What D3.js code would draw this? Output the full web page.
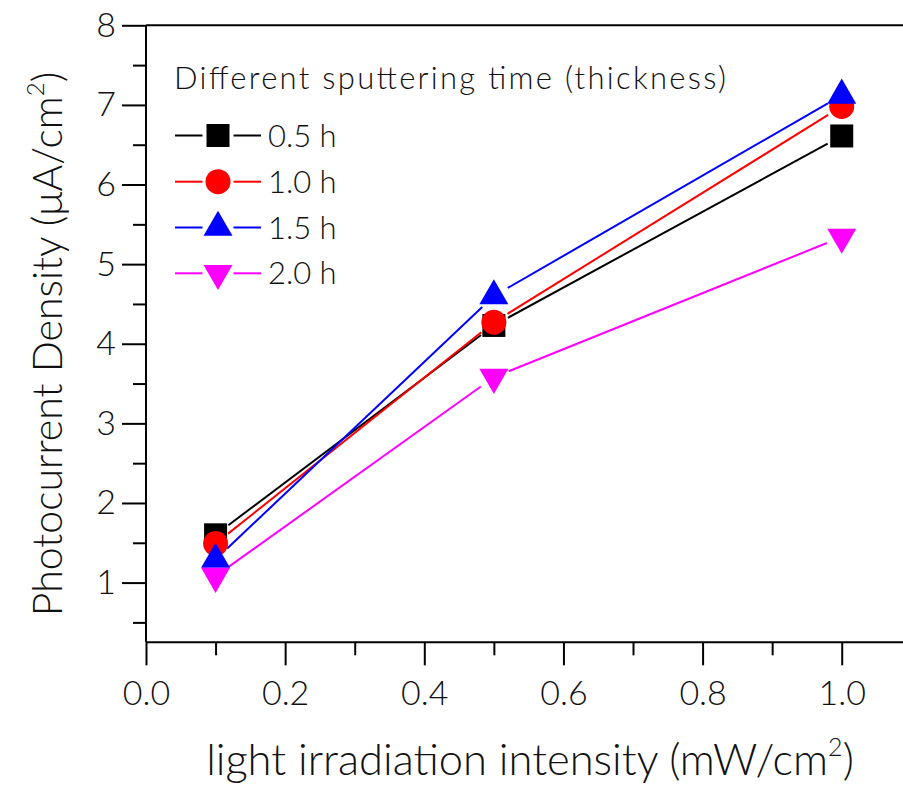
<!DOCTYPE html>
<html>
<head>
<meta charset="utf-8">
<script src="https://cdn.jsdelivr.net/npm/d3@7"></script>
<style>
  body { margin: 0; background: #fff; }
  svg { display: block; }
  text { font-family: Lato, "Open Sans", sans-serif; font-weight: 300; fill: #111; }
</style>
</head>
<body>
<svg width="903" height="785"></svg>
<script>
// data
const xValues = [0.1, 0.5, 1.0];
const seriesNames = ["0.5 h", "1.0 h", "1.5 h", "2.0 h"];
const seriesColors = ["#000000", "#ff0000", "#0000ff", "#ff00ff"];
const seriesShapes = ["square", "circle", "up", "down"];
const values05 = [1.6, 4.23, 6.61];
const values10 = [1.49, 4.27, 6.98];
const values15 = [1.29, 4.6, 7.12];
const values20 = [1.08, 3.58, 5.34];
const yTicks = [1, 2, 3, 4, 5, 6, 7, 8];
const xTicks = [0.0, 0.2, 0.4, 0.6, 0.8, 1.0];
const legendTitle = "Different sputtering time (thickness)";

const allValues = [values05, values10, values15, values20];
const series = seriesNames.map((name, i) => ({
  name: name,
  color: seriesColors[i],
  shape: seriesShapes[i],
  points: xValues.map((x, j) => ({ x: x, y: allValues[i][j] })),
}));

const svg = d3.select("svg");

const x = d3.scaleLinear().domain([0, 1.1]).range([146, 911.3]);
const y = d3.scaleLinear().domain([0.25, 8]).range([642.3, 25.3]);

// marker path builder
function markerPath(shape) {
  if (shape === "square") {
    return "M-11.5,-11.5h23v23h-23z";
  }
  if (shape === "circle") {
    return d3.symbol(d3.symbolCircle, Math.PI * 12.5 * 12.5)();
  }
  const s = 29, h = s * Math.sqrt(3) / 2;
  if (shape === "up") {
    return `M0,${-2 * h / 3}L${s / 2},${h / 3}L${-s / 2},${h / 3}Z`;
  }
  return `M0,${2 * h / 3}L${s / 2},${-h / 3}L${-s / 2},${-h / 3}Z`;
}

// frame lines
const frame = svg.append("g").attr("stroke", "#000").attr("stroke-width", 2);
frame.append("line").attr("x1", x(0)).attr("x2", x(1.1)).attr("y1", y(8)).attr("y2", y(8));
frame.append("line").attr("x1", x(0)).attr("x2", x(1.1)).attr("y1", y(0.25)).attr("y2", y(0.25));
frame.append("line").attr("x1", x(0)).attr("x2", x(0)).attr("y1", y(8)).attr("y2", y(0.25));
frame.append("line").attr("x1", x(1.1)).attr("x2", x(1.1)).attr("y1", y(8)).attr("y2", y(0.25));

// y axis
const yAxis = d3.axisLeft(y).tickValues(yTicks).tickSize(24).tickPadding(6).tickFormat(d3.format("d"));
const yMinor = d3.axisLeft(y).tickValues(d3.range(0.5, 8, 1)).tickSize(13).tickFormat("");
svg.append("g").attr("class", "axis").attr("transform", `translate(${x(0)},0)`).call(yAxis);
svg.append("g").attr("class", "axis").attr("transform", `translate(${x(0)},0)`).call(yMinor);

// x axis
const xAxis = d3.axisBottom(x).tickValues(xTicks).tickSize(23).tickPadding(16).tickFormat(d3.format(".1f"));
const xMinor = d3.axisBottom(x).tickValues([0.1, 0.3, 0.5, 0.7, 0.9]).tickSize(13).tickFormat("");
svg.append("g").attr("class", "axis").attr("transform", `translate(0,${y(0.25)})`).call(xAxis);
svg.append("g").attr("class", "axis").attr("transform", `translate(0,${y(0.25)})`).call(xMinor);

svg.selectAll(".axis .domain").remove();
svg.selectAll(".axis line").attr("stroke", "#000").attr("stroke-width", 2);
svg.selectAll(".axis text").attr("font-family", "Lato, sans-serif").attr("font-size", 34).attr("fill", "#111");

// axis titles
svg.append("text")
  .attr("transform", "translate(62,344) rotate(-90)")
  .attr("text-anchor", "middle")
  .attr("font-size", 41)
  .html('Photocurrent Density (μA/cm<tspan dy="-18" font-size="24">2</tspan><tspan dy="18">)</tspan>');

svg.append("text")
  .attr("x", 530)
  .attr("y", 775)
  .attr("text-anchor", "middle")
  .attr("font-size", 43.5)
  .html('light irradiation intensity (mW/cm<tspan dy="-19" font-size="25">2</tspan><tspan dy="19">)</tspan>');

// lines with gaps around the markers
const gap = 16;
const lines = svg.append("g");
series.forEach((s) => {
  for (let i = 0; i < s.points.length - 1; i++) {
    const x1 = x(s.points[i].x), y1 = y(s.points[i].y);
    const x2 = x(s.points[i + 1].x), y2 = y(s.points[i + 1].y);
    const len = Math.hypot(x2 - x1, y2 - y1);
    const ux = (x2 - x1) / len, uy = (y2 - y1) / len;
    lines.append("line")
      .attr("x1", x1 + ux * gap).attr("y1", y1 + uy * gap)
      .attr("x2", x2 - ux * gap).attr("y2", y2 - uy * gap)
      .attr("stroke", s.color)
      .attr("stroke-width", 2);
  }
});

// markers
series.forEach((s) => {
  svg.append("g")
    .selectAll("path")
    .data(s.points)
    .enter()
    .append("path")
    .attr("d", markerPath(s.shape))
    .attr("transform", (d) => `translate(${x(d.x)},${y(d.y)})`)
    .attr("fill", s.color);
});

// legend
const legend = svg.append("g");
legend.append("text")
  .attr("x", 174)
  .attr("y", 89)
  .attr("font-size", 31)
  .attr("textLength", 552)
  .attr("lengthAdjust", "spacing")
  .text(legendTitle);

const rowY = [135.5, 181.7, 227.5, 273.3];
series.forEach((s, i) => {
  const g = legend.append("g").attr("transform", `translate(218,${rowY[i]})`);
  g.append("line").attr("x1", -43).attr("x2", -15.5).attr("stroke", s.color).attr("stroke-width", 2);
  g.append("line").attr("x1", 15.5).attr("x2", 43).attr("stroke", s.color).attr("stroke-width", 2);
  g.append("path").attr("d", markerPath(s.shape)).attr("fill", s.color);
  g.append("text")
    .attr("x", 50)
    .attr("y", 11)
    .attr("font-size", 31)
    .text(s.name);
});
</script>
</body>
</html>
